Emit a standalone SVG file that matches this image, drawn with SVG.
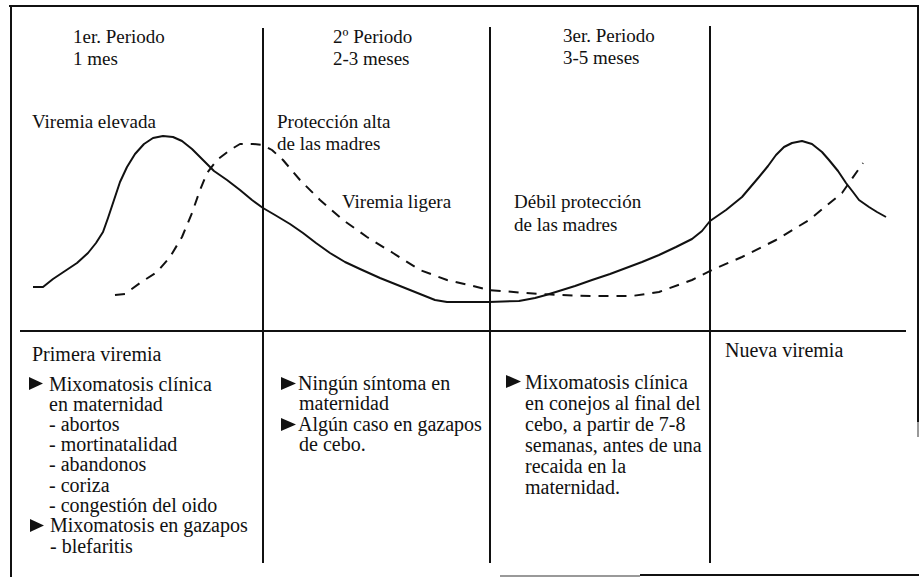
<svg xmlns="http://www.w3.org/2000/svg" width="919" height="577" viewBox="0 0 919 577">
<style>
.ln{stroke:#111;stroke-width:2;fill:none}
.gr{stroke:#999;stroke-width:2;fill:none}
.cv{stroke:#111;stroke-width:2;fill:none;stroke-linejoin:round;stroke-linecap:butt}
.ds{stroke-dasharray:10 8}
.t{font-family:"Liberation Serif","Times New Roman",serif;font-size:19px;fill:#111}
.b{font-family:"Liberation Serif","Times New Roman",serif;font-size:20px;fill:#111}
.bu{fill:#111}
</style>
<rect width="919" height="577" fill="#fff"/>
<g id="frame">
<line class="ln" x1="9" y1="6" x2="919" y2="6" stroke-width="2.5"/>
<line class="ln" x1="11" y1="5" x2="11" y2="577"/>
<line class="ln" x1="918" y1="5" x2="918" y2="422"/>
<line class="gr" x1="918" y1="422" x2="918" y2="437"/>
<line class="gr" x1="500" y1="576" x2="640" y2="576"/>
<line class="ln" x1="640" y1="575" x2="919" y2="575"/>
</g>
<g id="connectors">
<line class="ln" x1="20" y1="331" x2="906" y2="331"/>
<line class="ln" x1="263" y1="28" x2="263" y2="563"/>
<line class="ln" x1="490" y1="27" x2="490" y2="563"/>
<line class="ln" x1="710" y1="26" x2="710" y2="563"/>
</g>
<g id="curve-viremia">
<polyline class="cv" points="33,287 43,287 53,279 65,271 77,263 88,253 96,243 103,232 108,218 114,200 120,182 127,167 135,154 144,144 153,138 163,136 173,137 182,141 192,149 203,160 214,171 227,180 240,190 252,200 263,208 275,215 290,224 303,233 316,243 330,253 345,262 360,269 380,278 400,286 420,294 435,300 447,302 460,302 489,302 519,301 535,298 546,295 559,291 575,286 592,280 610,274 626,268 642,262 659,255 676,247 692,239 702,231 710,221 726,210 742,197 759,177 768,166 776,155 784,147 792,143 802,141 812,144 822,152 829,160 838,171 846,183 853,192 859,200 869,207 877,212 886,217"/>
</g>
<g id="curve-proteccion">
<polyline class="cv ds" points="115,295 125,294 140,283 157,272 170,257 182,237 192,213 200,190 207,173 217,160 230,150 240,144 253,144 263,145 272,150 283,160 300,180 320,200 343,220 367,237 393,253 420,270 447,280 469,285 489,290 526,293 559,295 592,296 632,296 659,292 692,280 712,270 742,257 776,240 809,220 842,193 863,163"/>
</g>
<g id="period1">
<text class="t" x="73" y="43">1er. Periodo</text>
<text class="t" x="73" y="65">1 mes</text>
</g>
<g id="period2">
<text class="t" x="333" y="43">2º Periodo</text>
<text class="t" x="333" y="65">2-3 meses</text>
</g>
<g id="period3">
<text class="t" x="563" y="42">3er. Periodo</text>
<text class="t" x="563" y="64">3-5 meses</text>
</g>
<g id="labels">
<text class="t" x="32" y="128">Viremia elevada</text>
<text class="t" x="277" y="128">Protección alta</text>
<text class="t" x="277" y="150">de las madres</text>
<text class="t" x="342" y="208">Viremia ligera</text>
<text class="t" x="514" y="208">Débil protección</text>
<text class="t" x="514" y="231">de las madres</text>
</g>
<g id="cell1">
<text class="b" x="32" y="361">Primera viremia</text>
<polygon class="bu" points="29,377 43,383.5 29,390"/>
<text class="b" x="49" y="391">Mixomatosis clínica</text>
<text class="b" x="49" y="411">en maternidad</text>
<text class="b" x="49" y="431">- abortos</text>
<text class="b" x="49" y="451">- mortinatalidad</text>
<text class="b" x="49" y="471">- abandonos</text>
<text class="b" x="49" y="492">- coriza</text>
<text class="b" x="49" y="512">- congestión del oido</text>
<polygon class="bu" points="30,519 44,525.5 30,532"/>
<text class="b" x="50" y="532">Mixomatosis en gazapos</text>
<text class="b" x="50" y="553">- blefaritis</text>
</g>
<g id="cell2">
<polygon class="bu" points="281,377 296,383.5 281,390"/>
<text class="b" x="298" y="390">Ningún síntoma en</text>
<text class="b" x="299" y="410">maternidad</text>
<polygon class="bu" points="281,418 296,424.5 281,431"/>
<text class="b" x="298" y="431">Algún caso en gazapos</text>
<text class="b" x="299" y="451">de cebo.</text>
</g>
<g id="cell3">
<polygon class="bu" points="506,375 521,381.5 506,388"/>
<text class="b" x="525" y="389">Mixomatosis clínica</text>
<text class="b" x="525" y="410">en conejos al final del</text>
<text class="b" x="525" y="431">cebo, a partir de 7-8</text>
<text class="b" x="525" y="452">semanas, antes de una</text>
<text class="b" x="525" y="473">recaida en la</text>
<text class="b" x="525" y="494">maternidad.</text>
</g>
<g id="cell4">
<text class="b" x="725" y="357">Nueva viremia</text>
</g>
</svg>
